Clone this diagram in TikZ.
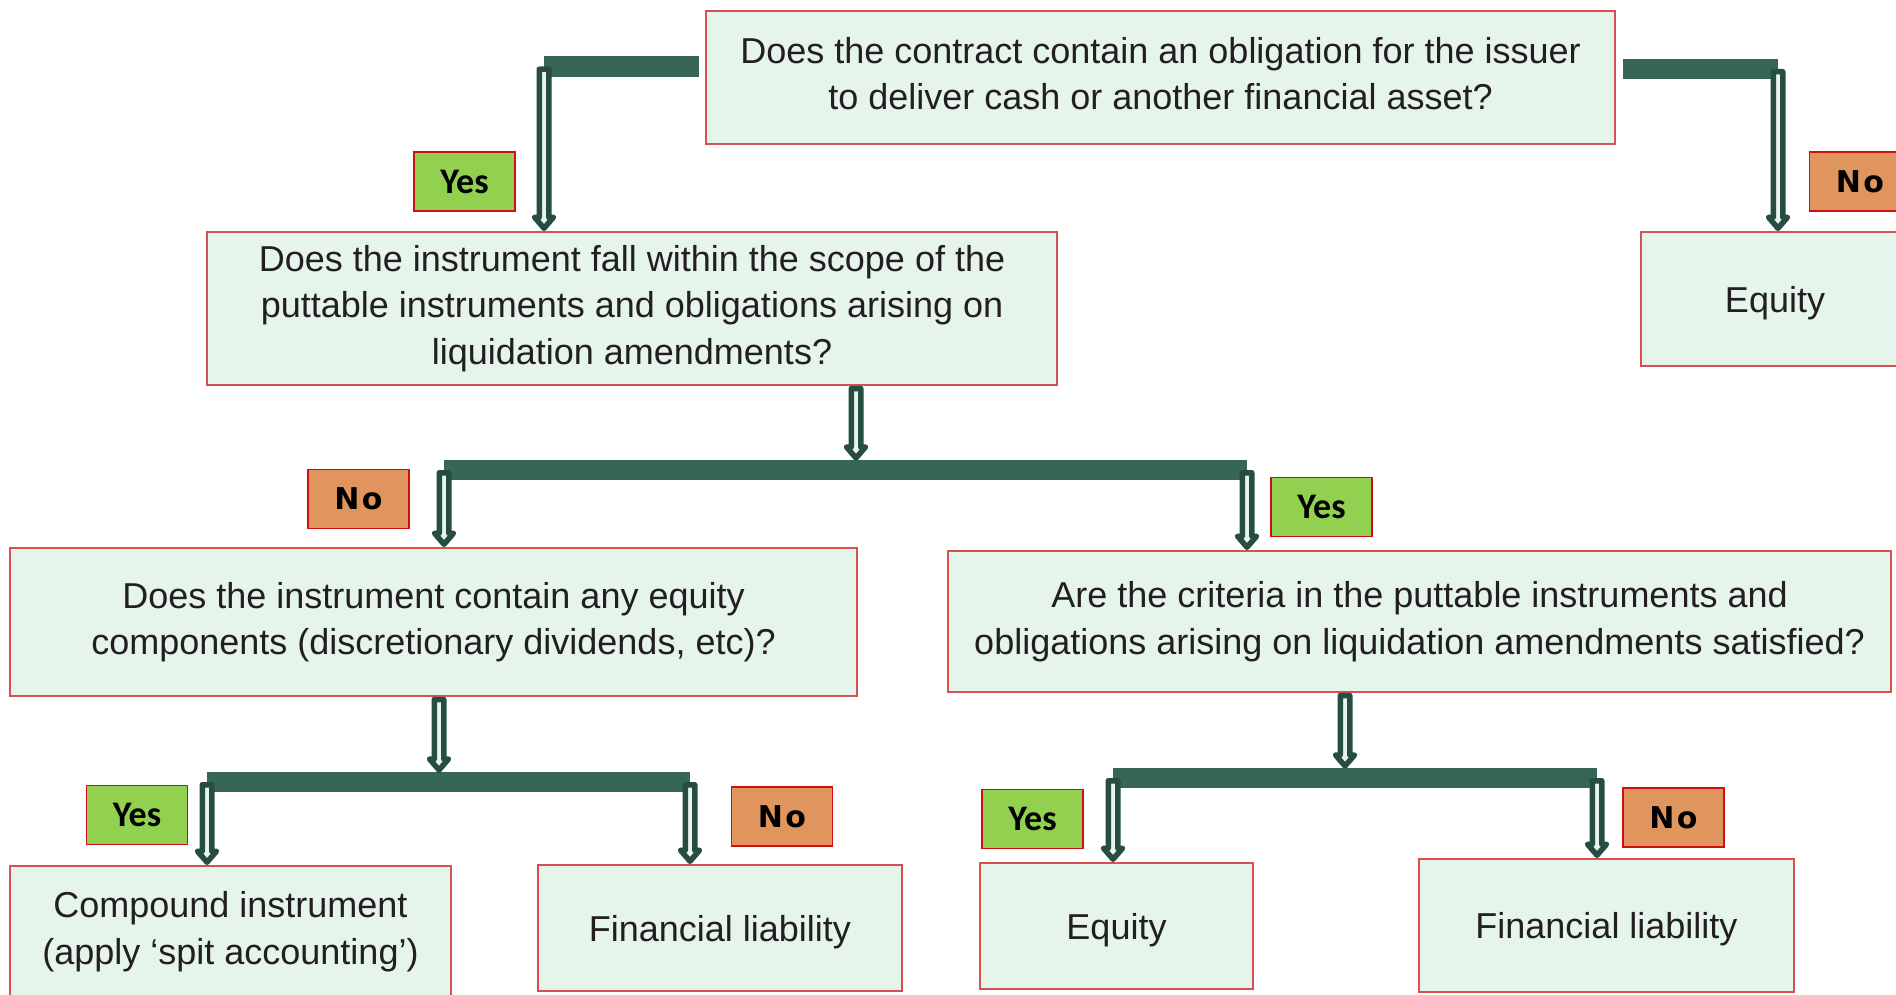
\documentclass[tikz,border=0pt]{standalone}
\usepackage{fontspec}
\setmainfont{Liberation Sans}
\newfontfamily\yesfamily{Carlito}
\newfontfamily\nofamily{DejaVu Sans}[LetterSpace=8]
\usetikzlibrary{calc}

\definecolor{boxfill}{HTML}{E6F5EC}
\definecolor{boxline}{HTML}{D65252}
\definecolor{barcol}{HTML}{386656}
\definecolor{arrowdark}{HTML}{264D40}
\definecolor{arrowlight}{HTML}{E8F5EE}
\definecolor{yescol}{HTML}{92D050}
\definecolor{nocol}{HTML}{E0955E}
\definecolor{tagline}{HTML}{D01010}
\definecolor{ink}{HTML}{231F20}

\tikzset{
  qtext/.style={inner sep=0pt, align=center, text=ink,
    font=\fontsize{18}{23.25}\selectfont},
  qbox/.style 2 args={qtext, draw=boxline, line width=0.75pt, fill=boxfill,
    minimum width=#1*0.5pt, minimum height=#2*0.5pt},
  onel/.style={text depth=0pt},
  yestag/.style={draw=tagline, line width=0.6pt, fill=yescol,
    minimum width=50.5pt, minimum height=29.5pt, inner sep=0pt,
    font=\yesfamily\bfseries\fontsize{18}{20}\selectfont},
  notag/.style={draw=tagline, line width=0.6pt, fill=nocol,
    minimum width=50.5pt, minimum height=29.5pt, inner sep=0pt,
    font=\nofamily\bfseries\fontsize{15}{18}\selectfont},
  barline/.style={draw=barcol, line width=#1*0.5pt, line cap=butt},
  harrow/.style={fill=arrowlight, draw=arrowdark, line width=2.75pt, line join=round},
}

% hollow downward arrow from the first point to the level of the second one
\newcommand\hollowarrow[2]{%
  \filldraw[harrow] let \p1=(#1), \p2=(#2) in
    (\x1-2.375pt,\y1-1.375pt) -- (\x1+2.375pt,\y1-1.375pt)
    -- (\x1+2.375pt,\y2+7pt) -- (\x1+4.75pt,\y2+7pt)
    -- (\x1,\y2+1.5pt)
    -- (\x1-4.75pt,\y2+7pt) -- (\x1-2.375pt,\y2+7pt) -- cycle;}

\begin{document}
\begin{tikzpicture}[x=0.5pt,y=-0.5pt]
\useasboundingbox (0,0) rectangle (1896,995);
\clip (0,0) rectangle (1896,995);
\fill[white] (0,0) rectangle (1896,995);

% question and outcome boxes
\node[qbox={909}{133}] (q1) at (1160.5,77.5) {};
\node[qtext] (q1t) at ([yshift=2pt]q1.center)
  {Does the contract contain an obligation for the issuer\\to deliver cash or another financial asset?};
\node[qbox={850}{153}] (q2) at (632,308.5)
  {Does the instrument fall within the scope of the\\puttable instruments and obligations arising on\\liquidation amendments?};
\node[qbox={268}{134}, onel] (eqA) at (1775,299) {Equity};
\node[qbox={847}{148}] (q3) at (433.5,622)
  {Does the instrument contain any equity\\components (discretionary dividends, etc)?};
\node[qbox={943}{141}] (q4) at (1419.5,621.5)
  {Are the criteria in the puttable instruments and\\obligations arising on liquidation amendments satisfied?};
\node[qbox={441}{131}] (cmp) at (230.5,931.5)
  {Compound instrument\\(apply ‘spit accounting’)};
\node[qbox={364}{126}, onel] (fin1) at (720,928) {Financial liability};
\node[qbox={273}{126}, onel] (eqB) at (1116.5,926) {Equity};
\node[qbox={375}{133}, onel] (fin2) at (1606.5,925.5) {Financial liability};

% yes / no tags
\node[yestag] (y1) at (464.5,181.5) {Yes};
\node[notag]  (n1) at (1860,181.5) {No};
\node[notag]  (n2) at (358.5,499) {No};
\node[yestag] (y2) at (1321.5,507) {Yes};
\node[yestag] (y3) at (137,815) {Yes};
\node[notag]  (n3) at (782,816.5) {No};
\node[yestag] (y4) at (1032.5,819) {Yes};
\node[notag]  (n4) at (1673.5,817.5) {No};

% branch bars
\coordinate (b1s) at (544,66.5);   \coordinate (b1e) at (699,66.5);
\coordinate (b5s) at (1623,69);    \coordinate (b5e) at (1778,69);
\coordinate (b2s) at (444,470);    \coordinate (b2e) at (1247,470);
\coordinate (b3s) at (207,782);    \coordinate (b3e) at (690,782);
\coordinate (b4s) at (1113,778);   \coordinate (b4e) at (1597,778);
\coordinate (j2) at (856,461);
\coordinate (j3) at (439,773);
\coordinate (j4) at (1345,769);

\draw[barline=21] (b1s) -- (b1e);
\draw[barline=20] (b5s) -- (b5e);
\draw[barline=20] (b2s) -- (b2e);
\draw[barline=20] (b3s) -- (b3e);
\draw[barline=20] (b4s) -- (b4e);

% arrows
\hollowarrow{b1s}{q2.north}
\hollowarrow{b5e}{eqA.north}
\hollowarrow{q2.south -| j2}{j2}
\hollowarrow{b2s}{q3.north}
\hollowarrow{b2e}{q4.north}
\hollowarrow{q3.south -| j3}{j3}
\hollowarrow{b3s}{cmp.north}
\hollowarrow{b3e}{fin1.north}
\hollowarrow{q4.south -| j4}{j4}
\hollowarrow{b4s}{eqB.north}
\hollowarrow{b4e}{fin2.north}
\end{tikzpicture}
\end{document}
